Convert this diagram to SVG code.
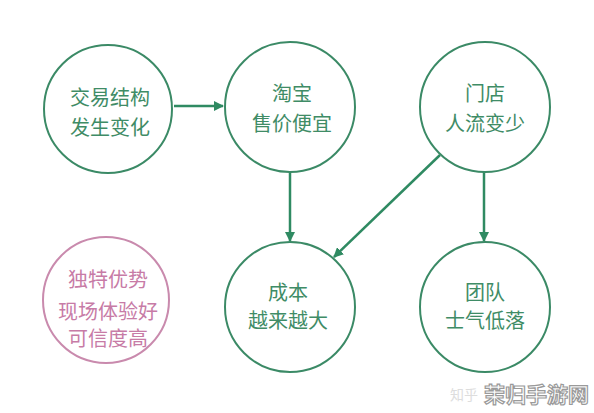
<svg xmlns="http://www.w3.org/2000/svg" width="594" height="413" viewBox="0 0 594 413">
<style>
.node{fill:#fff;stroke:#3b8a66;stroke-width:2}
.pink{fill:#fff;stroke:#c98aad;stroke-width:2}
.t{font-family:"Noto Sans CJK SC","Noto Sans",sans-serif;font-size:20px;fill:#3f8c66;text-anchor:middle}
.tp{font-family:"Noto Sans CJK SC","Noto Sans",sans-serif;font-size:20px;fill:#c77ba6;text-anchor:middle}
.c{stroke:#2f8a62;stroke-width:2.5;fill:none;marker-end:url(#ah)}
</style>
<defs>
<marker id="ah" viewBox="0 0 10 10" refX="9" refY="5" markerWidth="4" markerHeight="4" orient="auto" markerUnits="strokeWidth">
<path d="M0,0 L10,5 L0,10 z" fill="#2f8a62"/>
</marker>
</defs>
<rect width="594" height="413" fill="#fff"/>
<g id="connectors">
<line class="c" x1="174" y1="106" x2="223" y2="106"/>
<line class="c" x1="290" y1="172" x2="290" y2="241"/>
<line class="c" x1="484" y1="172" x2="484" y2="241"/>
<line class="c" x1="440" y1="155" x2="334" y2="257"/>
</g>
<g id="n1"><circle class="node" cx="108" cy="109" r="64"/><text class="t" x="110" y="105">交易结构</text><text class="t" x="110" y="135">发生变化</text></g>
<g id="n2"><circle class="node" cx="290" cy="107" r="65"/><text class="t" x="292" y="101">淘宝</text><text class="t" x="292" y="131">售价便宜</text></g>
<g id="n3"><circle class="node" cx="485" cy="107" r="65"/><text class="t" x="485" y="101">门店</text><text class="t" x="485" y="131">人流变少</text></g>
<g id="n4"><circle class="node" cx="290" cy="307" r="65"/><text class="t" x="288" y="300">成本</text><text class="t" x="288" y="328">越来越大</text></g>
<g id="n5"><circle class="node" cx="485" cy="307" r="65"/><text class="t" x="485" y="300">团队</text><text class="t" x="485" y="328">士气低落</text></g>
<g id="n6"><circle class="pink" cx="106" cy="300" r="63"/><text class="tp" x="108" y="287">独特优势</text><text class="tp" x="108" y="319">现场体验好</text><text class="tp" x="108" y="346">可信度高</text></g>
<g id="watermark">
<text x="450" y="400" font-family="Noto Sans CJK SC,sans-serif" font-size="14" fill="#ddd">知乎</text>
<text x="484" y="402" font-family="Noto Sans CJK SC,sans-serif" font-size="21" font-weight="bold" fill="#fff" stroke="#9a9a9a" stroke-width="1.2">茉归手游网</text>
</g>
</svg>
